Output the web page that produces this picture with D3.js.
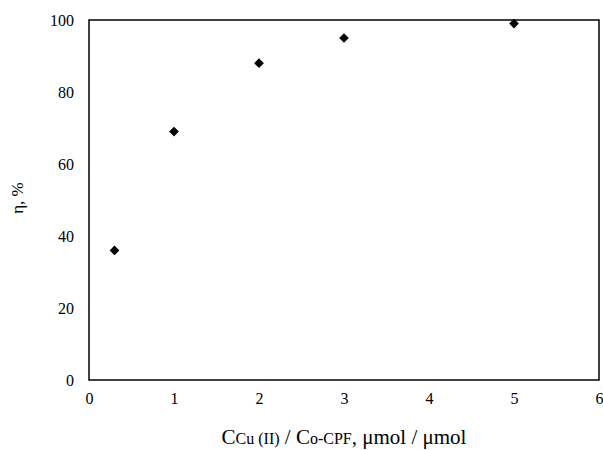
<!DOCTYPE html>
<html><head><meta charset="utf-8">
<script src="https://cdn.jsdelivr.net/npm/d3@7"></script>
<style>
body{margin:0;background:#fff;}
text{font-family:"Liberation Serif","Times New Roman",serif;fill:#000;}
</style></head>
<body>
<svg id="c" width="603" height="450"></svg>
<script>
const xValues = [0.3, 1, 2, 3, 5];
const yValues = [36, 69, 88, 95, 99];
const xTicks = [0, 1, 2, 3, 4, 5, 6];
const yTicks = [0, 20, 40, 60, 80, 100];

const svg = d3.select("#c");
const L = 89, R = 599, T = 20, B = 380;
const x = d3.scaleLinear().domain([0, 6]).range([L, R]);
const y = d3.scaleLinear().domain([0, 100]).range([B, T]);

svg.append("rect").attr("x", L).attr("y", T).attr("width", R - L).attr("height", B - T)
  .attr("fill", "none").attr("stroke", "#000").attr("stroke-width", 1.5);

const xa = svg.append("g").attr("transform", `translate(0,${B})`)
  .call(d3.axisBottom(x).tickValues(xTicks).tickSize(0).tickPadding(13).tickFormat(d3.format("d")));
xa.select(".domain").remove();
xa.selectAll("text").attr("font-size", 16).attr("font-family", "Liberation Serif");

const ya = svg.append("g").attr("transform", `translate(${L},0)`)
  .call(d3.axisLeft(y).tickValues(yTicks).tickSize(0).tickPadding(15).tickFormat(d3.format("d")));
ya.select(".domain").remove();
ya.selectAll("text").attr("font-size", 16).attr("font-family", "Liberation Serif");

svg.append("g").selectAll("path").data(xValues).join("path")
  .attr("transform", (d, i) => `translate(${x(d)},${y(yValues[i])})`)
  .attr("d", d3.symbol(d3.symbolDiamond2, 60))
  .attr("fill", "#000");

const xt = svg.append("text").attr("x", 344).attr("y", 444).attr("text-anchor", "middle").attr("font-size", 21);
xt.append("tspan").text("C");
xt.append("tspan").attr("font-size", 16).text("Cu (II)");
xt.append("tspan").text(" / C");
xt.append("tspan").attr("font-size", 16).text("o-CPF");
xt.append("tspan").text(", μmol / μmol");

svg.append("text").attr("transform", "translate(23,198) rotate(-90)")
  .attr("text-anchor", "middle").attr("font-size", 17).text("η, %");
</script>
</body></html>
